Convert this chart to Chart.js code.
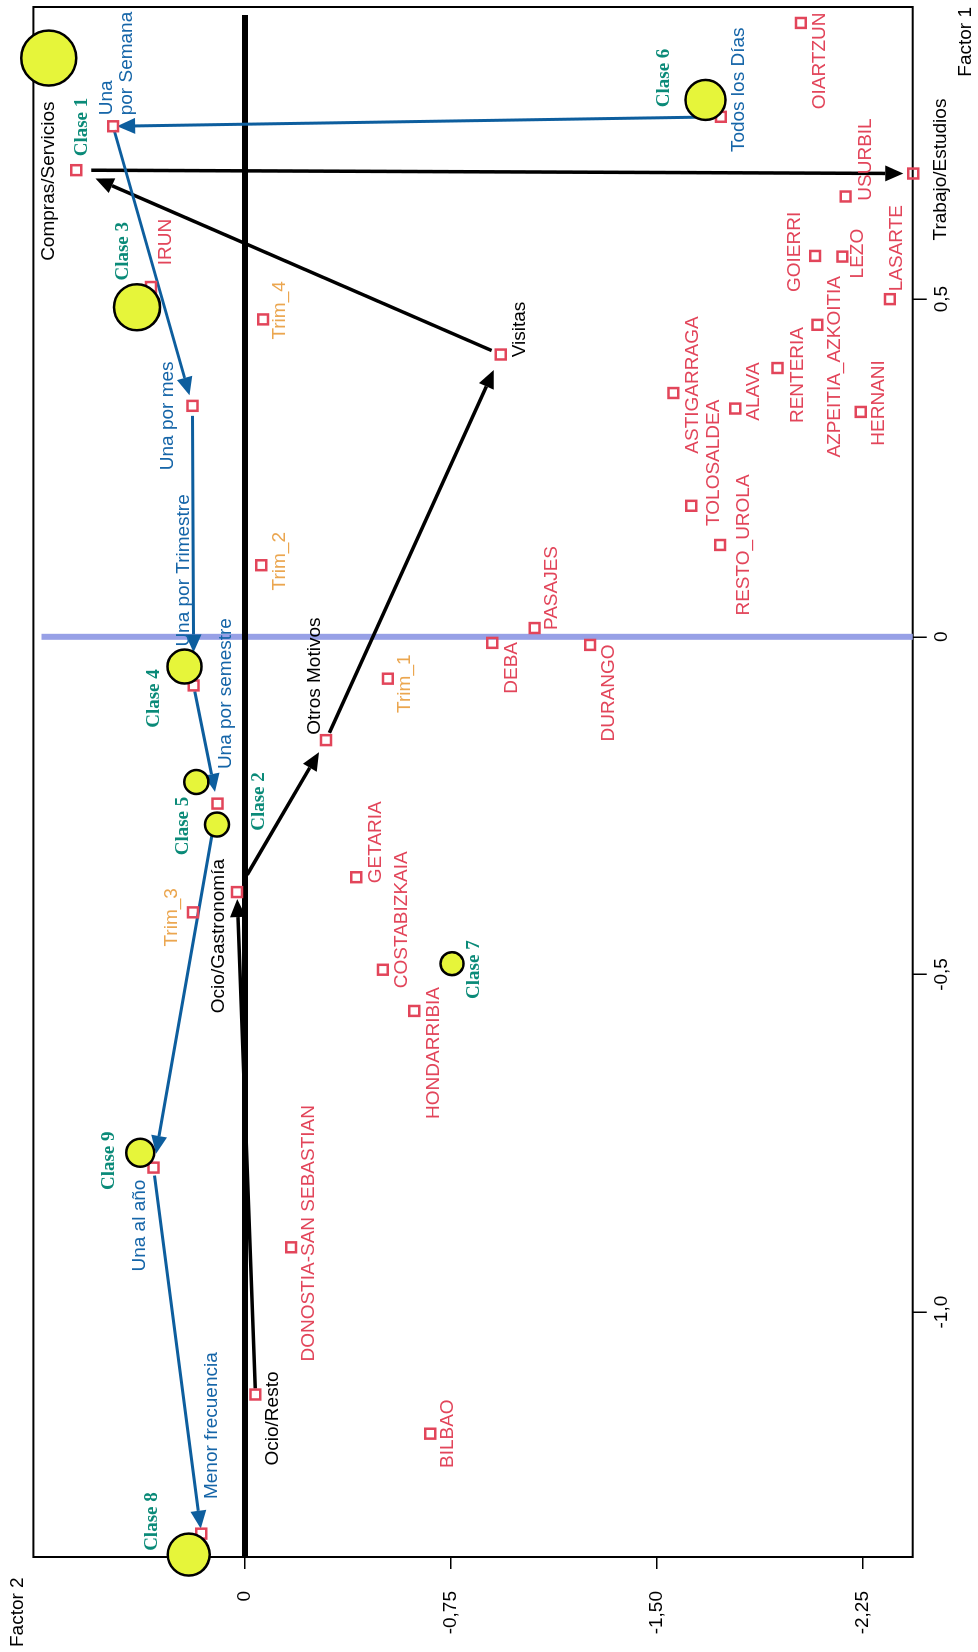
<!DOCTYPE html>
<html>
<head>
<meta charset="utf-8">
<script src="https://cdn.jsdelivr.net/npm/chart.js@4.4.1/dist/chart.umd.min.js"></script>
<style>
  html, body { margin: 0; padding: 0; background: #fff; overflow: hidden; }
  body { width: 978px; height: 1652px; position: relative; }
  /* the chart is drawn lying down and turned a quarter left, like the original */
  #wrap { position: absolute; left: 0; top: 0; width: 1652px; height: 978px;
          transform-origin: 0 0; transform: translate(0, 1652px) rotate(-90deg); }
  canvas { display: block; }
</style>
</head>
<body>
<div id="wrap"><canvas id="chart" width="1652" height="978"></canvas></div>
<script>
// Points: Factor 1 (horizontal before turning) and Factor 2
const etiquetas = [
    "Compras/Servicios", "Una\npor Semana", "IRUN", "Trim_4", "OIARTZUN",
    "Todos los Días", "Trabajo/Estudios", "USURBIL", "GOIERRI", "LEZO",
    "LASARTE", "AZPEITIA_AZKOITIA", "Visitas", "ASTIGARRAGA", "ALAVA",
    "RENTERIA", "HERNANI", "TOLOSALDEA", "RESTO_UROLA", "PASAJES",
    "DEBA", "DURANGO", "Una por mes", "Trim_2", "Una por Trimestre",
    "Una por semestre", "Otros Motivos", "Trim_1", "Ocio/Gastronomía", "Trim_3",
    "GETARIA", "COSTABIZKAIA", "HONDARRIBIA", "Una al año", "DONOSTIA-SAN SEBASTIAN",
    "Ocio/Resto", "BILBAO", "Menor frecuencia"
];
const factor1 = [
    0.691, 0.756, 0.518, 0.470, 0.909,
    0.770, 0.686, 0.652, 0.564, 0.563,
    0.500, 0.462, 0.418, 0.361, 0.338,
    0.398, 0.333, 0.194, 0.136, 0.013,
    -0.009, -0.012, 0.342, 0.106, -0.072,
    -0.247, -0.153, -0.062, -0.378, -0.408,
    -0.356, -0.493, -0.554, -0.786, -0.904,
    -1.122, -1.180, -1.328
];
const factor2 = [
    0.614, 0.480, 0.342, -0.066, -2.023,
    -1.732, -2.432, -2.186, -2.075, -2.174,
    -2.347, -2.083, -0.931, -1.559, -1.784,
    -1.938, -2.241, -1.624, -1.729, -1.054,
    -0.900, -1.256, 0.191, -0.059, 0.187,
    0.100, -0.295, -0.520, 0.029, 0.189,
    -0.405, -0.502, -0.616, 0.333, -0.168,
    -0.038, -0.674, 0.159
];
const grupos = [
    "motivo", "frecuencia", "zona", "trim", "zona",
    "frecuencia", "motivo", "zona", "zona", "zona",
    "zona", "zona", "motivo", "zona", "zona",
    "zona", "zona", "zona", "zona", "zona",
    "zona", "zona", "frecuencia", "trim", "frecuencia",
    "frecuencia", "motivo", "trim", "motivo", "trim",
    "zona", "zona", "zona", "frecuencia", "zona",
    "motivo", "zona", "frecuencia"
];

// Classes (yellow circles)
const claseNombres = ["Clase 1", "Clase 2", "Clase 3", "Clase 4", "Clase 5", "Clase 6", "Clase 7", "Clase 8", "Clase 9"];
const claseFactor1 = [0.857, -0.278, 0.488, -0.044, -0.215, 0.795, -0.484, -1.359, -0.764];
const claseFactor2 = [0.714, 0.102, 0.393, 0.220, 0.177, -1.676, -0.753, 0.205, 0.381];
const claseTamano = [27.5, 12, 23, 17, 12, 20, 11.5, 21, 14];

// Arrow paths
const flechasFrecuencia = ["Todos los Días", "Una\npor Semana", "Una por mes", "Una por Trimestre", "Una por semestre", "Una al año", "Menor frecuencia"];
const flechasMotivo = ["Ocio/Resto", "Ocio/Gastronomía", "Otros Motivos", "Visitas", "Compras/Servicios", "Trabajo/Estudios"];
// gap left at the start / end of each arrow, pixels
const huecoFrecuencia = [[14, 4], [4, 11], [10, 33], [6, 12], [10, 14], [8, 5]];
const huecoMotivo = [[6, 7], [20, 14], [8, 17], [10, 21], [15, 10]];

// Axis ticks
const factor1Ticks = [-1, -0.5, 0, 0.5];
const factor1TickLabels = ["-1,0", "-0,5", "0", "0,5"];
const factor2Ticks = [-2.25, -1.5, -0.75, 0];
const factor2TickLabels = ["-2,25", "-1,50", "-0,75", "0"];

// label placement (pixels, unrotated frame)
const desplaza = [
    [-11, -28], [11, 4], [45, 15], [9, 17], [-38, 19],
    [27, 18], [4, 28], [37, 20], [4, -20], [3, 15],
    [51, 7], [-42, 17], [25, 19], [8, 19], [17, 19],
    [-7, 20], [9, 18], [43, 23], [0, 24], [40, 17],
    [-25, 19], [-48, 19], [-10, -25], [4, 19], [115, -10],
    [110, 8], [64, -11], [-5, 17], [-44, -18], [-5, -21],
    [35, 19], [50, 19], [-42, 20], [-58, -14], [14, 18],
    [-24, 17], [0, 18], [108, 10]
];
const desplazaClase = [[-69, 33], [23, 42], [56, -14], [-32, -30], [-44, -13], [22, -41], [-6, 22], [33, -37], [-8, -31]];

const colores = { zona: "#e2455a", frecuencia: "#1565a8", motivo: "#000000", trim: "#eba64f" };
const fuente = '"Liberation Sans", Arial, sans-serif';

function flecha(ctx, p, q, hueco, color, w) {
    const dx = q.x - p.x, dy = q.y - p.y;
    const len = Math.hypot(dx, dy);
    const ux = dx / len, uy = dy / len;
    const sx = p.x + ux * hueco[0], sy = p.y + uy * hueco[0];
    const tx = q.x - ux * hueco[1], ty = q.y - uy * hueco[1];
    const bx = tx - ux * 18, by = ty - uy * 18;
    ctx.strokeStyle = color;
    ctx.fillStyle = color;
    ctx.lineWidth = w;
    ctx.beginPath();
    ctx.moveTo(sx, sy);
    ctx.lineTo(bx, by);
    ctx.stroke();
    ctx.beginPath();
    ctx.moveTo(tx, ty);
    ctx.lineTo(bx - uy * 8, by + ux * 8);
    ctx.lineTo(bx + uy * 8, by - ux * 8);
    ctx.closePath();
    ctx.fill();
}

function cadena(chart, nombres, huecos, color, w) {
    const pts = chart.getDatasetMeta(1).data;
    for (let i = 0; i < nombres.length - 1; i++) {
        const a = pts[etiquetas.indexOf(nombres[i])];
        const b = pts[etiquetas.indexOf(nombres[i + 1])];
        flecha(chart.ctx, a, b, huecos[i], color, w);
    }
}

const dibujo = {
    id: "dibujo",
    beforeDatasetsDraw(chart) {
        const { ctx, chartArea: a, scales: { x, y } } = chart;
        ctx.save();
        ctx.strokeStyle = "#000";
        ctx.lineWidth = 2;
        ctx.strokeRect(a.left, a.top, a.right - a.left, a.bottom - a.top);

        const x0 = x.getPixelForValue(0);
        ctx.strokeStyle = "#97a0e6";
        ctx.lineWidth = 6;
        ctx.beginPath();
        ctx.moveTo(x0, a.top + 8);
        ctx.lineTo(x0, a.bottom);
        ctx.stroke();

        const y0 = y.getPixelForValue(0);
        ctx.strokeStyle = "#000";
        ctx.lineWidth = 6;
        ctx.beginPath();
        ctx.moveTo(a.left, y0);
        ctx.lineTo(a.right - 8, y0);
        ctx.stroke();

        cadena(chart, flechasMotivo, huecoMotivo, "#000", 3.5);
        cadena(chart, flechasFrecuencia, huecoFrecuencia, "#0d5e9e", 3);
        ctx.restore();
    },
    afterDatasetsDraw(chart) {
        const { ctx, chartArea: a } = chart;
        ctx.save();
        ctx.textBaseline = "middle";

        const pts = chart.getDatasetMeta(1).data;
        ctx.font = "19px " + fuente;
        etiquetas.forEach((txt, i) => {
            const p = pts[i];
            const [du, dv] = desplaza[i];
            ctx.fillStyle = colores[grupos[i]];
            const lineas = txt.split("\n");
            ctx.textAlign = lineas.length > 1 ? "left" : "center";
            lineas.forEach((l, k) => {
                ctx.fillText(l, p.x + du, p.y + dv + (k - (lineas.length - 1) / 2) * 20);
            });
        });

        const cls = chart.getDatasetMeta(0).data;
        ctx.font = 'bold 19px "Liberation Serif", "Times New Roman", serif';
        ctx.fillStyle = "#0a8a78";
        ctx.textAlign = "center";
        claseNombres.forEach((n, i) => {
            ctx.fillText(n, cls[i].x + desplazaClase[i][0], cls[i].y + desplazaClase[i][1]);
        });

        ctx.font = "19px " + fuente;
        ctx.fillStyle = "#000";
        ctx.textAlign = "left";
        ctx.fillText("Factor 2", a.left - 90, a.top - 16);
        ctx.restore();
    }
};

new Chart(document.getElementById("chart"), {
    type: "scatter",
    data: {
        datasets: [
            {
                type: "bubble",
                data: claseNombres.map((n, i) => ({ x: claseFactor1[i], y: claseFactor2[i], r: claseTamano[i] })),
                backgroundColor: "#e6f53a",
                borderColor: "#000",
                borderWidth: 2.5,
                clip: false
            },
            {
                data: etiquetas.map((e, i) => ({ x: factor1[i], y: factor2[i] })),
                pointStyle: "rect",
                pointRadius: 7,
                borderColor: "#e2455a",
                backgroundColor: "rgba(255,255,255,0)",
                borderWidth: 2.5,
                clip: false
            }
        ]
    },
    options: {
        responsive: false,
        animation: false,
        events: [],
        layout: { autoPadding: false, padding: { top: 33, right: 7, left: 0, bottom: 0 } },
        plugins: { legend: { display: false }, tooltip: { enabled: false } },
        scales: {
            x: {
                type: "linear",
                position: "bottom",
                min: -1.3626,
                max: 0.9326,
                afterBuildTicks: s => { s.ticks = factor1Ticks.map(v => ({ value: v })); },
                afterFit: s => { s.height = 65.3; },
                ticks: {
                    callback: (v, i) => factor1TickLabels[i],
                    font: { family: fuente, size: 19 },
                    color: "#000",
                    padding: 4,
                    maxRotation: 0,
                    autoSkip: false
                },
                grid: { drawOnChartArea: false, drawTicks: true, tickLength: 14, color: "#000", lineWidth: 1.5 },
                border: { display: false },
                title: {
                    display: true,
                    text: "Factor 1",
                    align: "end",
                    font: { family: fuente, size: 19 },
                    color: "#000",
                    padding: { top: 0, bottom: 1 }
                }
            },
            y: {
                type: "linear",
                position: "left",
                min: -2.43,
                max: 0.77,
                afterBuildTicks: s => { s.ticks = factor2Ticks.map(v => ({ value: v })); },
                afterFit: s => { s.width = 95; },
                ticks: {
                    callback: (v, i) => factor2TickLabels[i],
                    font: { family: fuente, size: 19 },
                    color: "#000",
                    padding: 22,
                    autoSkip: false
                },
                grid: { drawOnChartArea: false, drawTicks: true, tickLength: 12, color: "#000", lineWidth: 1.5 },
                border: { display: false }
            }
        }
    },
    plugins: [dibujo]
});
</script>
</body>
</html>
